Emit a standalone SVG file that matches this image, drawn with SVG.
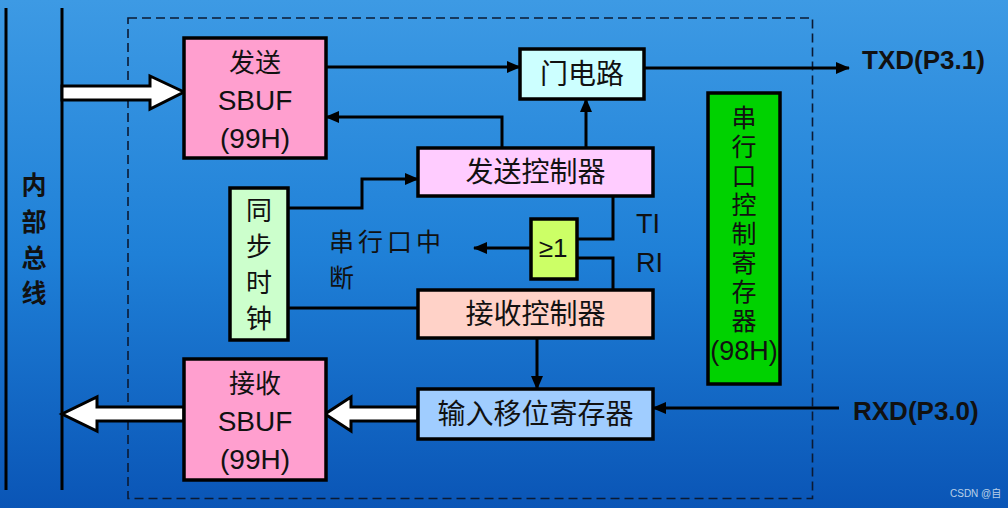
<svg xmlns="http://www.w3.org/2000/svg" width="1008" height="508" viewBox="0 0 1008 508">
<defs>
<linearGradient id="bg" x1="0" y1="0" x2="0" y2="1">
<stop offset="0" stop-color="#3d9ae4"/>
<stop offset="0.5" stop-color="#1f80d7"/>
<stop offset="1" stop-color="#0a55b6"/>
</linearGradient>
<marker id="ah" markerUnits="userSpaceOnUse" markerWidth="14" markerHeight="12" viewBox="0 0 14 12" refX="13" refY="6" orient="auto">
<path d="M0,0 L14,6 L0,12 z" fill="#000"/>
</marker>
<style>
.box{stroke:#000;stroke-width:3.5}
.ln{fill:none;stroke:#000;stroke-width:3}
.arr{fill:none;stroke:#000;stroke-width:3;marker-end:url(#ah)}
.hollow{fill:#fff;stroke:#000;stroke-width:3;stroke-linejoin:miter}
.t{font-family:"Liberation Sans","Noto Sans CJK SC",sans-serif;fill:#111;text-anchor:middle}
.c{font-family:"Noto Sans CJK SC","Liberation Sans",sans-serif;fill:#111;text-anchor:middle}
.b{font-family:"Liberation Sans","Noto Sans CJK SC",sans-serif;font-weight:bold;fill:#111}
</style>
</defs>
<rect x="0" y="0" width="1008" height="508" fill="url(#bg)"/>

<g id="bus">
<line x1="6" y1="8" x2="6" y2="490" class="ln"/>
<line x1="62" y1="8" x2="62" y2="490" class="ln"/>
<text class="t" font-weight="bold" font-size="25"><tspan x="34" y="194">内</tspan><tspan x="34" y="231">部</tspan><tspan x="34" y="267">总</tspan><tspan x="34" y="302">线</tspan></text>
</g>

<rect id="boundary" x="128" y="18" width="684.5" height="480.5" fill="none" stroke="#0b1a33" stroke-width="1.6" stroke-dasharray="9 5"/>

<g id="connectors">
<polygon class="hollow" points="62,86 150,86 150,76 184,92 150,109 150,100 62,100"/>
<polygon class="hollow" points="418,407 351,407 351,397 325,414 351,431 351,421 418,421"/>
<polygon class="hollow" points="184,407 97,407 97,397 62,414 97,431 97,421 184,421"/>
<line x1="326" y1="67" x2="520" y2="67" class="arr"/>
<polyline points="502,147 502,117 326,117" class="arr"/>
<line x1="586" y1="147" x2="586" y2="99" class="arr"/>
<line x1="644" y1="68" x2="849" y2="68" class="arr"/>
<polyline points="288,208 362,208 362,179 418,179" class="arr"/>
<line x1="288" y1="308" x2="418" y2="308" class="ln"/>
<polyline points="613,196 613,239 577,239" class="ln"/>
<polyline points="613,290 613,258 577,258" class="ln"/>
<line x1="531" y1="248" x2="474" y2="248" class="arr"/>
<line x1="537" y1="338" x2="537" y2="389" class="arr"/>
<line x1="839" y1="408" x2="653" y2="408" class="arr"/>
</g>

<g id="send-sbuf">
<rect class="box" x="184" y="38" width="142" height="120" fill="#ff9fcf"/>
<text class="c" font-size="26" x="255" y="72">发送</text>
<text class="t" font-size="28" x="255" y="110">SBUF</text>
<text class="t" font-size="28" x="255" y="148">(99H)</text>
</g>

<g id="gate">
<rect class="box" x="520" y="49" width="124" height="50" fill="#ccffff"/>
<text class="c" font-size="28" x="582" y="84">门电路</text>
</g>

<g id="send-ctrl">
<rect class="box" x="418" y="148" width="235" height="48" fill="#ffccff"/>
<text class="c" font-size="28" x="535.5" y="182">发送控制器</text>
</g>

<g id="sync-clock">
<rect class="box" x="230" y="188" width="58" height="152" fill="#ccffcc"/>
<text class="t" font-size="26"><tspan x="259" y="220">同</tspan><tspan x="259" y="256">步</tspan><tspan x="259" y="292">时</tspan><tspan x="259" y="328">钟</tspan></text>
</g>

<g id="or-gate">
<rect class="box" x="531" y="219" width="46" height="60" fill="#ccff66"/>
<text class="t" font-size="26" x="553" y="257">≥1</text>
</g>

<g id="interrupt-label">
<text class="c" font-size="25" x="329" y="251" letter-spacing="4" style="text-anchor:start">串行口中</text>
<text class="c" font-size="25" x="329" y="287" style="text-anchor:start">断</text>
</g>

<g id="ti-ri">
<text class="t" font-size="27" x="636" y="233" style="text-anchor:start">TI</text>
<text class="t" font-size="27" x="636" y="272" style="text-anchor:start">RI</text>
</g>

<g id="recv-ctrl">
<rect class="box" x="418" y="290" width="235" height="48" fill="#ffd2c8"/>
<text class="c" font-size="28" x="535.5" y="324">接收控制器</text>
</g>

<g id="shift-reg">
<rect class="box" x="418" y="389" width="235" height="50" fill="#a0cdff"/>
<text class="c" font-size="28" x="535.5" y="424">输入移位寄存器</text>
</g>

<g id="recv-sbuf">
<rect class="box" x="184" y="359" width="142" height="121" fill="#ff9fcf"/>
<text class="c" font-size="26" x="255" y="393">接收</text>
<text class="t" font-size="28" x="255" y="431">SBUF</text>
<text class="t" font-size="28" x="255" y="469">(99H)</text>
</g>

<g id="scon">
<rect class="box" x="708" y="93" width="72" height="291" fill="#00d200"/>
<text class="t" font-size="25"><tspan x="744" y="127">串</tspan><tspan x="744" y="156">行</tspan><tspan x="744" y="185">口</tspan><tspan x="744" y="214">控</tspan><tspan x="744" y="243">制</tspan><tspan x="744" y="272">寄</tspan><tspan x="744" y="301">存</tspan><tspan x="744" y="330">器</tspan></text>
<text class="t" font-size="27" x="744" y="360">(98H)</text>
</g>

<g id="txd">
<text class="b" font-size="26" x="862" y="69">TXD(P3.1)</text>
</g>
<g id="rxd">
<text class="b" font-size="26" x="853" y="420">RXD(P3.0)</text>
</g>

<text x="950" y="497" font-family="Liberation Sans, Noto Sans CJK SC, sans-serif" font-size="10" fill="#d8e4f2" opacity="0.85">CSDN @自</text>
</svg>
